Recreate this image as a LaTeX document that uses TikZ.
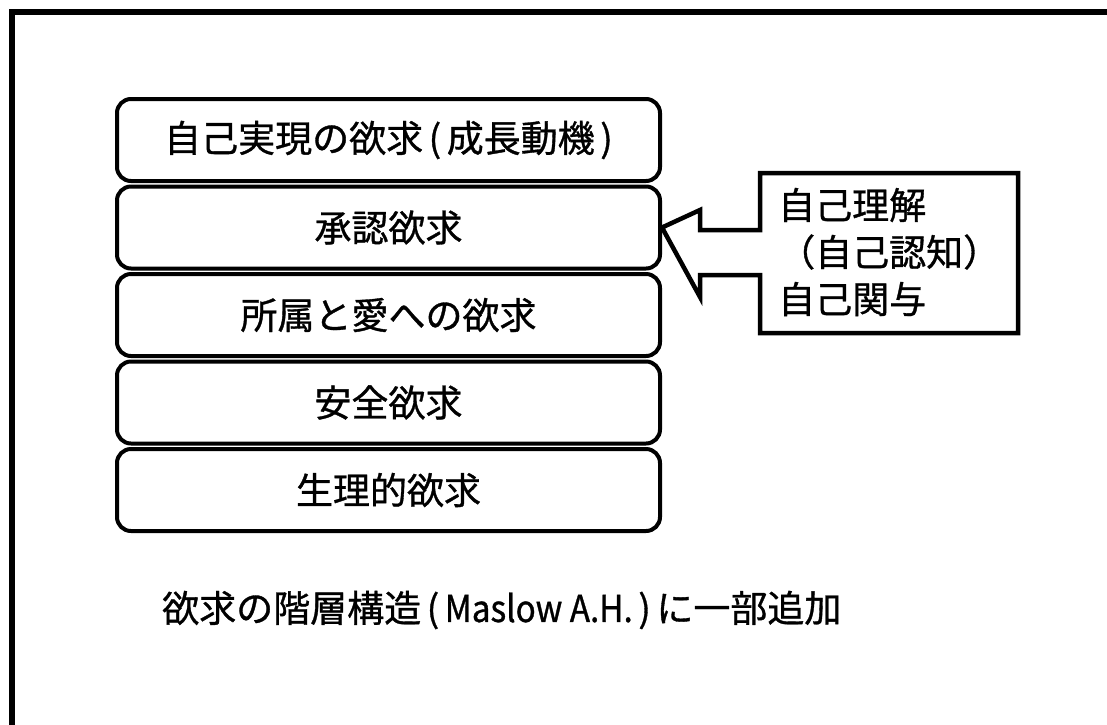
\documentclass[tikz,border=0pt]{standalone}
\usepackage{fontspec}
\setmainfont{Noto Sans CJK JP}[FakeBold=0.9]
\newcommand{\lp}[1]{\hspace{#1}(\hspace{#1}}
\newcommand{\rp}[1]{\hspace{#1})\hspace{#1}}
\begin{document}
\begin{tikzpicture}[x=1pt,y=-1pt,
  lvl/.style={draw=black,line width=4pt,rounded corners=14pt,minimum width=543pt,minimum height=82pt,inner sep=0pt,font=\fontsize{37}{40}\selectfont},
  txt/.style={font=\fontsize{37}{40}\selectfont,inner sep=0pt}]
\useasboundingbox (0,0) rectangle (1107,724);
\draw[line width=6pt] (12,730) -- (12,12) -- (1113,12);
\node[lvl] (b1) at (388.5,140) {自己実現の欲求\lp{0.15em}成長動機\rp{0.15em}};
\node[lvl] (b2) at (388.5,227.5) {承認欲求};
\node[lvl] (b3) at (388.5,315) {所属と愛への欲求};
\node[lvl] (b4) at (388.5,402.5) {安全欲求};
\node[lvl] (b5) at (388.5,490) {生理的欲求};
\coordinate (tip) at (b2.east);
\draw[line width=4.5pt,line join=miter]
  (760,230) -- (760,173) -- (1018,173) -- (1018,333) -- (760,333) -- (760,275)
  -- (700,275) -- (700,297) -- (tip) -- (700,210) -- (700,230) -- cycle;
\node[txt,anchor=west] (r1) at (778,205) {自己理解};
\node[txt,anchor=west] (r2) at (778,252) {（自己認知）};
\node[txt,anchor=west] (r3) at (778,299) {自己関与};
\node[txt,anchor=west] (cap) at (162,610) {欲求の階層構造\lp{0.15em}\scalebox{0.9}[1]{Maslow A.H.}\rp{0.15em}に一部追加};
\end{tikzpicture}
\end{document}
